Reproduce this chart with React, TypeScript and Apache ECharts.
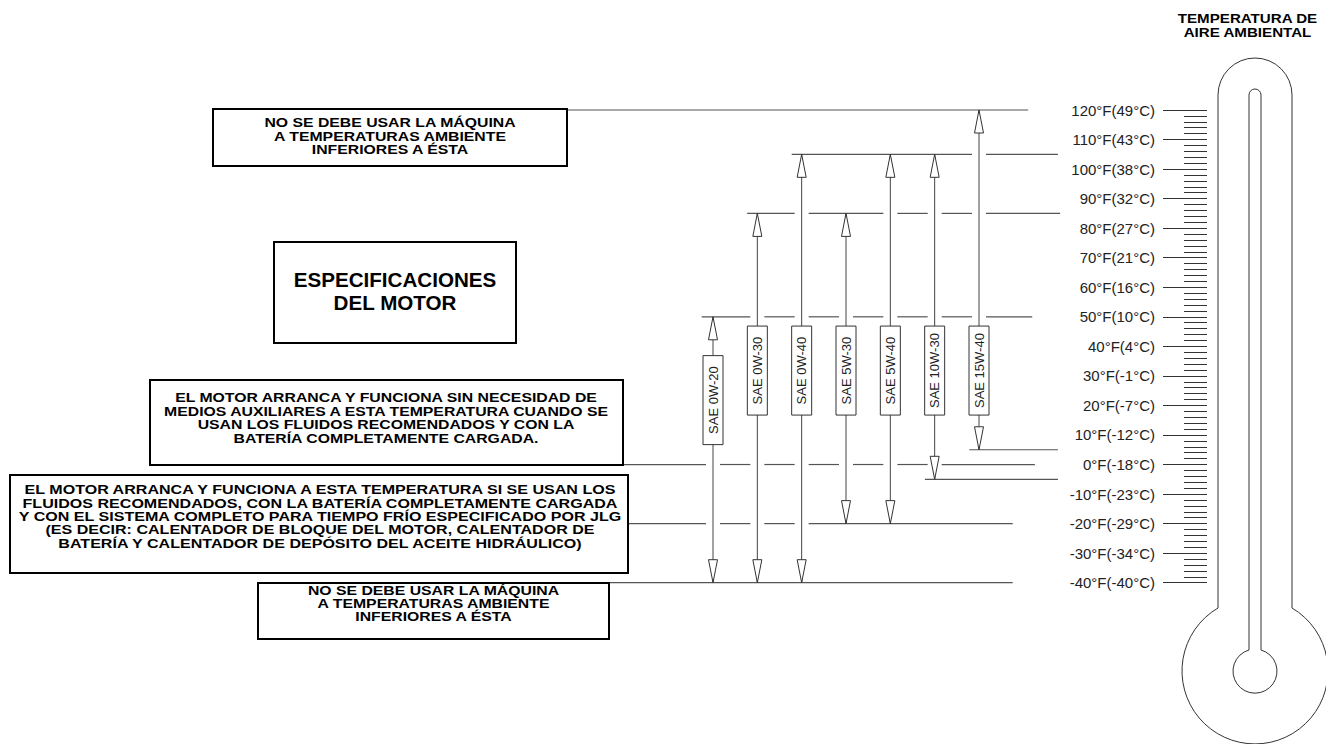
import React, { useEffect, useRef } from 'react';
import * as echarts from 'echarts';

// ---------- DATA ----------
const grades = ['SAE 0W-20', 'SAE 0W-30', 'SAE 0W-40', 'SAE 5W-30', 'SAE 5W-40', 'SAE 10W-30', 'SAE 15W-40'];
const gradeMaxF = [50, 85, 105, 85, 105, 105, 120];
const gradeMinF = [-40, -40, -40, -20, -20, -5, 5];

const levelF = [120, 105, 85, 50, 5, 0, -5, -20, -40];

const tickValuesF = [-40, -30, -20, -10, 0, 10, 20, 30, 40, 50, 60, 70, 80, 90, 100, 110, 120];
const tickLabels = [
  '-40°F(-40°C)', '-30°F(-34°C)', '-20°F(-29°C)', '-10°F(-23°C)', '0°F(-18°C)',
  '10°F(-12°C)', '20°F(-7°C)', '30°F(-1°C)', '40°F(4°C)', '50°F(10°C)',
  '60°F(16°C)', '70°F(21°C)', '80°F(27°C)', '90°F(32°C)', '100°F(38°C)',
  '110°F(43°C)', '120°F(49°C)',
];

const titleLines = ['TEMPERATURA DE', 'AIRE AMBIENTAL'];
const noUseLines = ['NO SE DEBE USAR LA MÁQUINA', 'A TEMPERATURAS AMBIENTE', 'INFERIORES A ÉSTA'];
const specLines = ['ESPECIFICACIONES', 'DEL MOTOR'];
const unaidedLines = [
  'EL MOTOR ARRANCA Y FUNCIONA SIN NECESIDAD DE',
  'MEDIOS AUXILIARES A ESTA TEMPERATURA CUANDO SE',
  'USAN LOS FLUIDOS RECOMENDADOS Y CON LA',
  'BATERÍA COMPLETAMENTE CARGADA.',
];
const coldKitLines = [
  'EL MOTOR ARRANCA Y FUNCIONA A ESTA TEMPERATURA SI SE USAN LOS',
  'FLUIDOS RECOMENDADOS, CON LA BATERÍA COMPLETAMENTE CARGADA',
  'Y CON EL SISTEMA COMPLETO PARA TIEMPO FRÍO ESPECIFICADO POR JLG',
  '(ES DECIR: CALENTADOR DE BLOQUE DEL MOTOR, CALENTADOR DE',
  'BATERÍA Y CALENTADOR DE DEPÓSITO DEL ACEITE HIDRÁULICO)',
];

// ---------- LAYOUT (column units on the x scale) ----------
const levelFrom = [-3.29, 1.775, 0.77, -0.255, 5.78, -2.03, 4.78, -1.92, -2.34];
const levelTo = [7.11, 7.78, 7.83, 7.2, 7.78, 7.26, 7.78, 6.76, 6.76];
const LABEL_MID_F_FIRST = 21.8;
const LABEL_MID_F = 31.8;

const FONT = '"Liberation Sans", Arial, Helvetica, sans-serif';
const LINE = '#555';

const outerPath =
  'M1218 608 L1218 95 A37 37 0 0 1 1292 95 L1292 608 A73 73 0 1 1 1218 608 Z';
const innerPath =
  'M1249 650 L1249 95 A6 6 0 0 1 1261 95 L1261 650 A22 22 0 1 1 1249 650 Z';
echarts.graphic.registerShape('thermoOuter', echarts.graphic.extendPath(outerPath, {}));
echarts.graphic.registerShape('thermoInner', echarts.graphic.extendPath(innerPath, {}));

function boxText(lines: string[], cx: number, cy: number, size: number, lh: number, sx: number) {
  return lines.map((t, k) => ({
    type: 'text',
    x: cx,
    y: cy + (k - (lines.length - 1) / 2) * lh,
    scaleX: sx,
    z: 10,
    style: {
      text: t,
      font: `bold ${size}px ${FONT}`,
      fill: '#000',
      align: 'center',
      verticalAlign: 'middle',
      textAlign: 'center',
      textVerticalAlign: 'middle',
    },
  }));
}

function box(x: number, y: number, w: number, h: number) {
  return {
    type: 'rect',
    z: 9,
    shape: { x, y, width: w, height: h },
    style: { fill: '#fff', stroke: '#000', lineWidth: 2 },
  };
}

export default function App() {
  const ref = useRef<HTMLDivElement>(null);

  useEffect(() => {
    if (!ref.current) return;
    const chart = echarts.init(ref.current, null, { renderer: 'svg' });
    const GAP = 7;

    const option: any = {
      animation: false,
      backgroundColor: '#fff',
      grid: [
        { left: 535.67, top: 110, width: 532, height: 472.7 },
        { left: 1207, top: 110, width: 1, height: 472.7 },
      ],
      xAxis: [
        { gridIndex: 0, type: 'value', min: -4, max: 8, show: false },
        { gridIndex: 1, type: 'value', min: 0, max: 1, show: false },
      ],
      yAxis: [
        { gridIndex: 0, type: 'value', min: -40, max: 120, show: false },
        {
          gridIndex: 1,
          type: 'value',
          min: -40,
          max: 120,
          interval: 10,
          position: 'left',
          axisLine: { show: false },
          axisTick: { show: true, length: 44, lineStyle: { color: '#333', width: 1 } },
          minorTick: { show: true, splitNumber: 5, length: 23, lineStyle: { color: '#333', width: 1 } },
          splitLine: { show: false },
          minorSplitLine: { show: false },
          axisLabel: {
            margin: 52,
            fontFamily: FONT,
            fontSize: 15,
            color: '#222',
            formatter: (v: number) => {
              const k = tickValuesF.indexOf(v);
              return k >= 0 ? tickLabels[k] : '';
            },
          },
        },
      ],
      series: [
        {
          type: 'custom',
          xAxisIndex: 0,
          yAxisIndex: 0,
          clip: false,
          z: 2,
          data: levelF.map((t, i) => [levelFrom[i], t, levelTo[i]]),
          renderItem: (params: any, api: any) => {
            const t = api.value(1);
            const [x0, y] = api.coord([api.value(0), t]);
            const x1 = api.coord([api.value(2), t])[0];
            const gaps: number[] = [];
            grades.forEach((_, g) => {
              if (gradeMaxF[g] > t && gradeMinF[g] < t) {
                const gx = api.coord([g, t])[0];
                if (gx > x0 && gx < x1) gaps.push(gx);
              }
            });
            gaps.sort((a, b) => a - b);
            const children: any[] = [];
            let cur = x0;
            gaps.forEach((gx) => {
              children.push({
                type: 'line',
                shape: { x1: cur, y1: y, x2: gx - GAP, y2: y },
                style: { stroke: LINE, lineWidth: 1.2 },
              });
              cur = gx + GAP;
            });
            children.push({
              type: 'line',
              shape: { x1: cur, y1: y, x2: x1, y2: y },
              style: { stroke: LINE, lineWidth: 1.2 },
            });
            return { type: 'group', children };
          },
        },
        {
          type: 'custom',
          xAxisIndex: 0,
          yAxisIndex: 0,
          clip: false,
          z: 3,
          data: grades.map((_, i) => [i, gradeMaxF[i], gradeMinF[i]]),
          renderItem: (params: any, api: any) => {
            const i = api.value(0);
            const [x, yTop] = api.coord([i, api.value(1)]);
            const yBot = api.coord([i, api.value(2)])[1];
            const mid = api.coord([i, i === 0 ? LABEL_MID_F_FIRST : LABEL_MID_F])[1];
            const hw = 4.5;
            const hl = 23;
            const bw = 20;
            const bh = 89;
            return {
              type: 'group',
              children: [
                {
                  type: 'line',
                  shape: { x1: x, y1: yTop, x2: x, y2: yBot },
                  style: { stroke: '#444', lineWidth: 1 },
                },
                {
                  type: 'polygon',
                  shape: { points: [[x, yTop], [x - hw, yTop + hl], [x + hw, yTop + hl]] },
                  style: { fill: '#fff', stroke: '#333', lineWidth: 1 },
                },
                {
                  type: 'polygon',
                  shape: { points: [[x, yBot], [x - hw, yBot - hl], [x + hw, yBot - hl]] },
                  style: { fill: '#fff', stroke: '#333', lineWidth: 1 },
                },
                {
                  type: 'rect',
                  shape: { x: x - bw / 2, y: mid - bh / 2, width: bw, height: bh },
                  style: { fill: '#fff', stroke: '#333', lineWidth: 1 },
                },
                {
                  type: 'text',
                  x: x,
                  y: mid,
                  rotation: Math.PI / 2,
                  style: {
                    text: grades[i],
                    font: `13px ${FONT}`,
                    fill: '#222',
                    align: 'center',
                    verticalAlign: 'middle',
                    textAlign: 'center',
                    textVerticalAlign: 'middle',
                  },
                },
              ],
            };
          },
        },
      ],
      graphic: [
        {
          type: 'thermoOuter',
          x: 0,
          y: 0,
          z: 1,
          style: { fill: 'none', stroke: '#333', lineWidth: 1 },
        },
        {
          type: 'thermoInner',
          x: 0,
          y: 0,
          z: 1,
          style: { fill: 'none', stroke: '#333', lineWidth: 1 },
        },
        ...boxText(titleLines, 1247.5, 25.4, 13.5, 13.4, 1.12),
        box(213, 109, 354, 57),
        ...boxText(noUseLines, 390, 136, 13.5, 13.4, 1.17),
        box(274, 242, 242, 101),
        ...boxText(specLines, 395, 291, 20.6, 22.5, 1),
        box(150, 380, 473, 85),
        ...boxText(unaidedLines, 386, 418, 13.5, 13.4, 1.17),
        box(10, 475, 618, 98),
        ...boxText(coldKitLines, 320, 516.5, 13.5, 13.3, 1.19),
        box(258, 583, 351, 56),
        ...boxText(noUseLines, 433.5, 603.5, 13.5, 13.4, 1.17),
      ],
    };

    chart.setOption(option);
    return () => chart.dispose();
  }, []);

  return (
    <div
      ref={ref}
      style={{ position: 'fixed', left: 0, top: 0, width: 1326, height: 744, background: '#fff' }}
    />
  );
}
